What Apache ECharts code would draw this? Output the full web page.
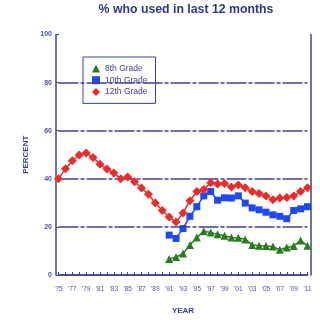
<!DOCTYPE html>
<html>
<head>
<meta charset="utf-8">
<script src="https://cdn.jsdelivr.net/npm/echarts@6/dist/echarts.min.js"></script>
<style>html,body{margin:0;padding:0;background:#fff}#c{width:320px;height:320px}</style>
</head>
<body>
<div id="c"></div>
<script>
var years = ['1975','1976','1977','1978','1979','1980','1981','1982','1983','1984','1985','1986','1987','1988','1989','1990','1991','1992','1993','1994','1995','1996','1997','1998','1999','2000','2001','2002','2003','2004','2005','2006','2007','2008','2009','2010','2011'];
var years8_10 = ['1991','1992','1993','1994','1995','1996','1997','1998','1999','2000','2001','2002','2003','2004','2005','2006','2007','2008','2009','2010','2011'];
var grade12 = [40.0,44.2,47.5,49.9,50.7,48.9,46.1,44.1,42.4,40.0,40.7,38.8,36.2,33.6,29.9,26.8,24.1,22.0,25.8,30.9,34.7,35.6,38.4,37.8,38.0,36.6,37.4,36.3,34.7,33.9,32.9,31.3,32.0,32.2,32.9,34.7,36.3];
var grade10 = [16.6,15.2,19.3,24.4,28.4,32.9,34.7,31.1,32.1,32.0,32.9,29.9,27.9,27.1,26.1,25.0,24.4,23.4,26.8,27.5,28.4];
var grade8 = [6.7,7.5,8.9,12.5,15.6,18.2,17.7,16.9,16.3,15.6,15.5,14.8,12.5,12.2,12.1,11.8,10.5,11.4,12.1,14.3,12.2];
var gridValues = [20,40,60,80];

function pairs(xs, vs){ return xs.map(function(x,i){ return [x, vs[i]]; }); }

var navy = '#3c4391';
var chart = echarts.init(document.getElementById('c'), null, {renderer:'canvas'});
chart.setOption({
  animation: false,
  backgroundColor: '#fff',
  title: {
    text: '% who used in last 12 months',
    left: 181, top: -1, textAlign: 'center',
    textStyle: {fontFamily: 'Liberation Sans, Arial', fontWeight: 'bold', fontSize: 12.3, color: '#2e3888'}
  },
  legend: {
    orient: 'vertical', left: 83, top: 57,
    padding: [7, 8, 7, 9],
    itemWidth: 8, itemHeight: 8, itemGap: 2.7,
    backgroundColor: '#fff', borderColor: navy, borderWidth: 1,
    textStyle: {fontFamily: 'Liberation Sans, Arial', fontSize: 8.5, color: '#3a3f9a'},
    data: [
      {name: '8th Grade', icon: 'triangle'},
      {name: '10th Grade', icon: 'rect'},
      {name: '12th Grade', icon: 'diamond'}
    ]
  },
  grid: {left: 58.5, right: 12.5, top: 34.5, bottom: 40.5},
  xAxis: [{
    type: 'category', data: years, boundaryGap: false, offset: 2,
    name: 'YEAR', nameLocation: 'middle', nameGap: 30,
    nameTextStyle: {fontFamily: 'Liberation Sans, Arial', fontWeight: 'bold', fontSize: 8, color: '#3a3f9a'},
    axisLine: {lineStyle: {color: navy, width: 1.5}},
    axisTick: {show: true, inside: true, length: 3, interval: 0, lineStyle: {color: navy}},
    axisLabel: {interval: 1, margin: 9, fontFamily: 'Liberation Sans, Arial', fontSize: 6.5, color: '#4a55a8',
      formatter: function(v){ return "'" + v.slice(2); }},
    splitLine: {show: false}
  }, {
    type: 'category', data: years, boundaryGap: false, position: 'top', offset: 4.5,
    axisLine: {lineStyle: {color: navy, width: 1.5}},
    axisTick: {show: false}, axisLabel: {show: false}, splitLine: {show: false}
  }],
  yAxis: [{
    type: 'value', min: 0, max: 100, interval: 20, offset: 2.5,
    name: 'PERCENT', nameLocation: 'middle', nameGap: 24,
    nameTextStyle: {fontFamily: 'Liberation Sans, Arial', fontWeight: 'bold', fontSize: 8, color: '#3a3f9a'},
    axisLine: {show: true, lineStyle: {color: navy, width: 1.5}},
    axisTick: {show: true, inside: true, length: 3, lineStyle: {color: navy}},
    axisLabel: {margin: 4, fontFamily: 'Liberation Sans, Arial', fontSize: 7, fontWeight: 'bold', color: '#4a55a8'},
    splitLine: {show: false}
  }, {
    type: 'value', min: 0, max: 100, position: 'right', offset: 3.5,
    axisLine: {show: true, lineStyle: {color: navy, width: 1.5}},
    axisTick: {show: false}, axisLabel: {show: false}, splitLine: {show: false}
  }],
  series: [{
    name: '8th Grade', type: 'line', data: pairs(years8_10, grade8),
    symbol: 'triangle', symbolSize: 8, showAllSymbol: true,
    itemStyle: {color: '#2a7d1f'}, lineStyle: {color: '#2a7d1f', width: 1.5},
    markLine: {
      silent: true, symbol: 'none', label: {show: false},
      lineStyle: {color: navy, width: 1.5, type: [20, 2, 4, 2]},
      data: gridValues.map(function(v){ return {yAxis: v}; })
    },
    z: 3
  }, {
    name: '10th Grade', type: 'line', data: pairs(years8_10, grade10),
    symbol: 'rect', symbolSize: 7, showAllSymbol: true,
    itemStyle: {color: '#1f48f2'}, lineStyle: {color: '#1f48f2', width: 1.5},
    z: 4
  }, {
    name: '12th Grade', type: 'line', data: pairs(years, grade12),
    symbol: 'diamond', symbolSize: 9, showAllSymbol: true,
    itemStyle: {color: '#ee2b2b'}, lineStyle: {color: '#ee2b2b', width: 1.5},
    z: 5
  }]
});
</script>
</body>
</html>
